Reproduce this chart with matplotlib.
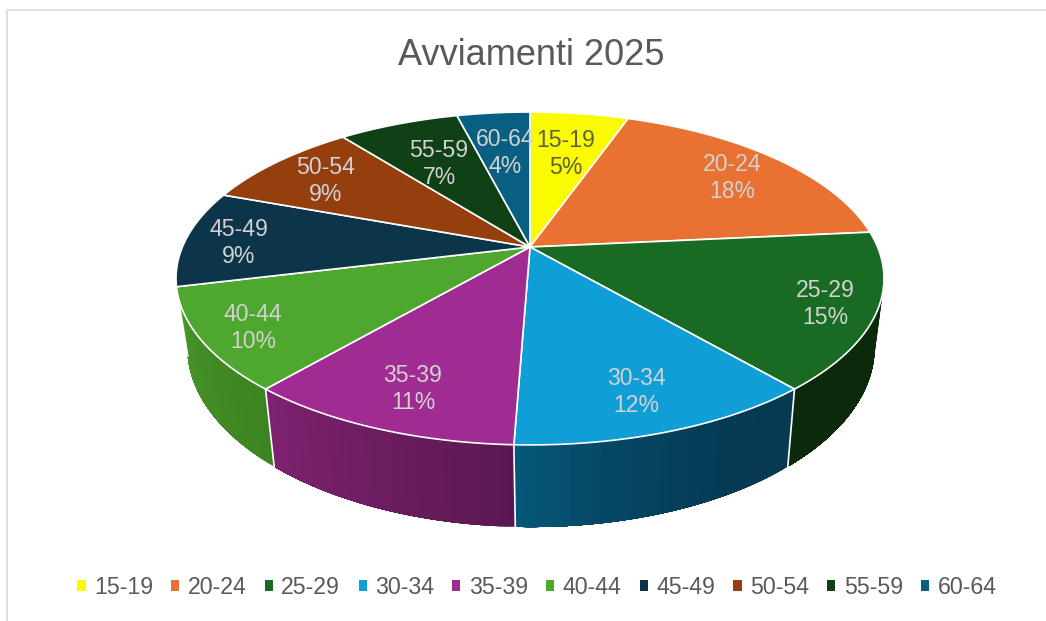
import numpy as np
import matplotlib
matplotlib.use("Agg")
import matplotlib.pyplot as plt
from matplotlib.patches import Polygon, Patch
from matplotlib.colors import to_rgb

# ---- data ----
title = "Avviamenti 2025"
categories = ["15-19", "20-24", "25-29", "30-34", "35-39",
              "40-44", "45-49", "50-54", "55-59", "60-64"]
values = [5.4, 18.1, 15.2, 11.9, 10.7, 9.9, 9.4, 8.8, 6.6, 4.0]

# ---- styles ----
colors = ["#FAFA00", "#E97132", "#196B24", "#0F9ED5", "#A02B93",
          "#4EA72E", "#0C3549", "#953F0E", "#0F4016", "#085F82"]
wall_left = [None, None, "#0a2a0b", "#06587A", "#7E226F", "#479A29",
             None, None, None, None]
wall_right = [None, None, "#0a2a0b", "#053A52", "#5A1852", "#3D8322",
              None, None, None, None]
wall_curve = [1, 1, 1, 2.2, 1, 1, 1, 1, 1, 1]
label_xy = [(566, 154), (732, 178), (825, 304), (636, 392), (413, 389),
            (253, 328), (239, 243), (326, 181), (439, 164), (505, 153)]
label_colors = ["#5f5f45"] + ["#d2d2d2"] * 9
font = ["Liberation Sans", "DejaVu Sans"]
plt.rcParams["font.family"] = font

# perspective projection of the pie rim (pixel layout)
TOP = dict(y0=247.0, a=160.5, b=347.6, k=0.189, cx=530.0)
BOT = dict(y0=313.0, a=173.6, b=337.5, k=0.189, cx=531.0)
WALL_END_EXTRA = np.radians(6)  # green wall wraps to the silhouette


def project(theta, p):
    u, v = np.sin(theta), np.cos(theta)
    w = 1 + p["k"] * v
    return p["cx"] + p["b"] * u / w, p["y0"] - p["a"] * v / w


fig = plt.figure(figsize=(10.46, 6.21), dpi=100, facecolor="white")
ax = fig.add_axes([0, 0, 1, 1])
ax.set_xlim(0, 1046)
ax.set_ylim(621, 0)
ax.axis("off")

# chart frame: only top and left are visible in the crop
ax.plot([6.5, 6.5, 1046], [621, 9.5, 9.5], color="#d9d9d9", lw=1.2, zorder=1)

edges = np.radians(np.concatenate([[0], np.cumsum(values)]) * 3.6)
last_wall = max(i for i, c in enumerate(wall_left) if c is not None)

# side wall: gradient steps painted from the right end towards the left,
# each one covering everything left of it, so no seams appear
for i in range(len(values)):
    if wall_left[i] is None:
        continue
    t0, t1 = edges[i], edges[i + 1]
    if i == last_wall:
        t1 = t1 + WALL_END_EXTRA
    c0, c1 = np.array(to_rgb(wall_left[i])), np.array(to_rgb(wall_right[i]))
    n = 40
    ts = np.linspace(t0, t1, 400)
    for j in range(n):
        f = (j / (n - 1)) ** wall_curve[i]
        col = c1 * (1 - f) + c0 * f
        sub = ts[int(j / n * 399):]
        xt, yt = project(sub, TOP)
        xb, yb = project(sub[::-1], BOT)
        pts = list(zip(xt, yt)) + list(zip(xb, yb))
        ax.add_patch(Polygon(pts, closed=True, facecolor=col, edgecolor="none",
                             zorder=2))

# white separators on the wall
for t in edges:
    if np.cos(t) < -0.1:
        x0, y0 = project(t, TOP)
        x1, y1 = project(t, BOT)
        ax.plot([x0, x1], [y0, y1], color="white", lw=1.2, zorder=3)

# top face
for i in range(len(values)):
    ts = np.linspace(edges[i], edges[i + 1], 100)
    xs, ys = project(ts, TOP)
    pts = [(TOP["cx"], TOP["y0"])] + list(zip(xs, ys))
    ax.add_patch(Polygon(pts, closed=True, facecolor=colors[i],
                         edgecolor="white", lw=1.2, joinstyle="round", zorder=4))

# data labels
for i, cat in enumerate(categories):
    ax.text(label_xy[i][0], label_xy[i][1],
            f"{cat}\n{round(values[i])}%", ha="center", va="center",
            multialignment="center", fontsize=16.6, linespacing=1.23,
            color=label_colors[i], zorder=6)

ax.text(531, 55.5, title, ha="center", va="center", fontsize=26, color="#595959")

handles = [Patch(facecolor=c, edgecolor="none") for c in colors]
ax.legend(handles, categories, ncol=len(categories), loc="center",
          bbox_to_anchor=(537, 587.5), bbox_transform=ax.transData,
          frameon=False, fontsize=16.7, labelcolor="#595959",
          handlelength=0.35, handleheight=0.35, handletextpad=0.36,
          columnspacing=0.79, borderpad=0, borderaxespad=0)

fig.savefig("out.png", dpi=100, facecolor="white")
